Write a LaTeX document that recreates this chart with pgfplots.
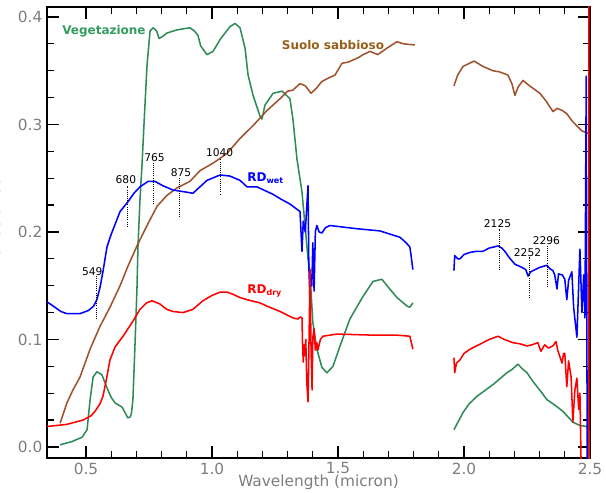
\documentclass[border=0pt]{standalone}
\usepackage{fontspec}
\setmainfont{DejaVu Sans}
\usepackage{pgfplots}
\pgfplotsset{compat=1.18}
\definecolor{veg}{RGB}{46,139,87}
\definecolor{vegtxt}{RGB}{50,155,95}
\definecolor{soil}{RGB}{160,82,45}
\definecolor{soiltxt}{RGB}{150,95,25}
\definecolor{ticktxt}{RGB}{125,125,125}
\begin{document}
\begin{tikzpicture}
\begin{axis}[
 scale only axis, width=407.25pt, height=338.25pt,
 xmin=0.345, xmax=2.5, ymin=-0.0103, ymax=0.4093,
 xtick={0.5,1.0,1.5,2.0,2.5}, minor x tick num=4,
 ytick={0,0.1,0.2,0.3,0.4}, minor y tick num=3,
 tick align=inside, major tick length=9pt, minor tick length=5pt,
 xticklabel style={/pgf/number format/.cd, fixed, fixed zerofill, precision=1},
 yticklabel style={/pgf/number format/.cd, fixed, fixed zerofill, precision=1},
 /pgf/number format/assume math mode=true,
 tick label style={font=\fontsize{11.5}{13}\selectfont, text=ticktxt},
 xlabel={Wavelength (micron)}, ylabel={Reflectance},
 label style={font=\fontsize{11.5}{13}\selectfont, text=ticktxt},
 xlabel style={at={(axis description cs:0.5,0)}, anchor=center, yshift=-18.5pt},
 ylabel style={at={(axis description cs:-0.0774,0.52)}, anchor=south},
 axis line style={line width=0.9pt},
 every tick/.style={black, line width=0.9pt},
 every axis plot/.append style={line width=1.15pt, line join=round},
]
\coordinate (SW) at (rel axis cs:0,0);
\coordinate (NE) at (rel axis cs:1,1);
% Vegetation
\addplot[veg] coordinates {(0.397,0.002) (0.444,0.005) (0.484,0.009) (0.504,0.016) (0.516,0.044) (0.528,0.065) (0.543,0.070) (0.563,0.067) (0.583,0.055) (0.60,0.046) (0.615,0.041) (0.643,0.037) (0.666,0.027) (0.675,0.028) (0.68,0.031) (0.686,0.044) (0.695,0.10) (0.702,0.147) (0.706,0.186) (0.714,0.23) (0.722,0.262) (0.732,0.31) (0.742,0.355) (0.754,0.387) (0.766,0.390) (0.78,0.387) (0.79,0.38) (0.805,0.382) (0.82,0.385) (0.861,0.388) (0.912,0.390) (0.93,0.387) (0.944,0.383) (0.955,0.373) (0.98,0.365) (1.004,0.368) (1.032,0.379) (1.071,0.391) (1.091,0.394) (1.111,0.39) (1.131,0.371) (1.143,0.346) (1.163,0.327) (1.19,0.308) (1.198,0.305) (1.21,0.318) (1.242,0.329) (1.278,0.331) (1.309,0.324) (1.321,0.305) (1.337,0.268) (1.357,0.237) (1.369,0.206) (1.381,0.175) (1.389,0.160) (1.40,0.116) (1.416,0.091) (1.436,0.074) (1.456,0.069) (1.48,0.075) (1.508,0.094) (1.547,0.119) (1.599,0.14) (1.639,0.154) (1.674,0.156) (1.698,0.149) (1.734,0.139) (1.774,0.131) (1.785,0.130) (1.797,0.134)};
\addplot[veg] coordinates {(1.96,0.016) (1.996,0.032) (2.02,0.040) (2.051,0.047) (2.08,0.052) (2.115,0.058) (2.14,0.063) (2.17,0.069) (2.19,0.072) (2.214,0.077) (2.23,0.073) (2.25,0.069) (2.27,0.062) (2.29,0.056) (2.31,0.05) (2.329,0.044) (2.36,0.039) (2.393,0.033) (2.432,0.023) (2.46,0.020) (2.488,0.019) (2.497,0.014) (2.5,-0.02)};
% Soil
\addplot[soil] coordinates {(0.397,0.022) (0.424,0.041) (0.448,0.053) (0.476,0.065) (0.516,0.091) (0.555,0.112) (0.595,0.13) (0.635,0.15) (0.666,0.168) (0.702,0.187) (0.742,0.206) (0.782,0.224) (0.821,0.234) (0.861,0.241) (0.912,0.247) (0.952,0.257) (1.004,0.264) (1.059,0.273) (1.111,0.287) (1.163,0.299) (1.218,0.313) (1.27,0.324) (1.30,0.331) (1.321,0.332) (1.349,0.338) (1.37,0.336) (1.393,0.329) (1.415,0.334) (1.436,0.34) (1.46,0.343) (1.488,0.346) (1.516,0.357) (1.54,0.358) (1.579,0.362) (1.60,0.365) (1.627,0.368) (1.658,0.365) (1.694,0.371) (1.734,0.377) (1.76,0.375) (1.805,0.374)};
\addplot[soil] coordinates {(1.96,0.336) (1.975,0.346) (1.996,0.354) (2.04,0.359) (2.075,0.354) (2.115,0.350) (2.14,0.349) (2.174,0.346) (2.19,0.338) (2.202,0.327) (2.215,0.335) (2.234,0.341) (2.26,0.336) (2.301,0.329) (2.325,0.322) (2.353,0.312) (2.37,0.315) (2.39,0.313) (2.408,0.31) (2.43,0.303) (2.468,0.294) (2.5,0.291)};
% RD wet
\addplot[blue] coordinates {(0.345,0.135) (0.37,0.131) (0.40,0.126) (0.424,0.124) (0.476,0.124) (0.51,0.127) (0.53,0.131) (0.543,0.137) (0.555,0.148) (0.567,0.163) (0.583,0.186) (0.60,0.198) (0.635,0.219) (0.666,0.228) (0.69,0.236) (0.714,0.242) (0.746,0.247) (0.774,0.247) (0.805,0.243) (0.845,0.239) (0.90,0.237) (0.924,0.236) (0.952,0.242) (0.98,0.248) (1.032,0.253) (1.071,0.252) (1.111,0.248) (1.139,0.242) (1.178,0.242) (1.242,0.235) (1.27,0.231) (1.309,0.226) (1.349,0.219) (1.353,0.2) (1.357,0.182) (1.362,0.21) (1.37,0.2) (1.375,0.22) (1.381,0.243) (1.384,0.17) (1.388,0.14) (1.392,0.16) (1.396,0.15) (1.40,0.19) (1.405,0.145) (1.41,0.2) (1.416,0.206) (1.425,0.2) (1.436,0.199) (1.45,0.204) (1.468,0.206) (1.575,0.203) (1.666,0.201) (1.746,0.195) (1.77,0.19) (1.785,0.186) (1.79,0.178) (1.797,0.165)};
\addplot[blue] coordinates {(1.96,0.164) (1.963,0.178) (1.975,0.175) (1.984,0.175) (2.0,0.179) (2.024,0.181) (2.05,0.182) (2.075,0.182) (2.10,0.185) (2.135,0.187) (2.15,0.185) (2.162,0.182) (2.18,0.176) (2.202,0.170) (2.23,0.167) (2.245,0.165) (2.254,0.159) (2.265,0.163) (2.282,0.165) (2.30,0.167) (2.329,0.169) (2.34,0.166) (2.353,0.164) (2.36,0.160) (2.369,0.147) (2.375,0.161) (2.39,0.160) (2.40,0.156) (2.408,0.137) (2.415,0.155) (2.428,0.163) (2.435,0.13) (2.448,0.102) (2.455,0.15) (2.46,0.184) (2.468,0.125) (2.475,0.16) (2.48,0.12) (2.485,0.345) (2.489,-0.02)};
% RD dry
\addplot[red] coordinates {(0.345,0.019) (0.424,0.021) (0.488,0.025) (0.52,0.029) (0.535,0.033) (0.555,0.040) (0.567,0.047) (0.58,0.062) (0.595,0.081) (0.615,0.093) (0.647,0.103) (0.686,0.117) (0.714,0.128) (0.74,0.134) (0.762,0.136) (0.793,0.133) (0.82,0.128) (0.845,0.126) (0.885,0.125) (0.924,0.128) (0.964,0.136) (1.0,0.141) (1.032,0.144) (1.06,0.144) (1.083,0.142) (1.111,0.139) (1.139,0.137) (1.19,0.134) (1.218,0.131) (1.27,0.126) (1.321,0.12) (1.341,0.119) (1.35,0.121) (1.357,0.120) (1.359,0.097) (1.362,0.079) (1.365,0.095) (1.368,0.085) (1.372,0.1) (1.376,0.06) (1.381,0.042) (1.385,0.1) (1.389,0.165) (1.393,0.09) (1.397,0.053) (1.40,0.102) (1.405,0.11) (1.41,0.09) (1.416,0.097) (1.42,0.09) (1.43,0.1) (1.44,0.103) (1.496,0.105) (1.639,0.104) (1.734,0.104) (1.785,0.103) (1.797,0.091)};
\addplot[red] coordinates {(1.96,0.083) (1.963,0.069) (1.97,0.078) (1.984,0.081) (2.0,0.087) (2.024,0.091) (2.05,0.094) (2.075,0.097) (2.10,0.100) (2.135,0.103) (2.16,0.100) (2.194,0.097) (2.22,0.096) (2.25,0.094) (2.27,0.095) (2.293,0.097) (2.305,0.089) (2.32,0.095) (2.335,0.092) (2.353,0.094) (2.365,0.098) (2.372,0.09) (2.389,0.078) (2.395,0.087) (2.40,0.087) (2.408,0.056) (2.415,0.08) (2.425,0.065) (2.432,0.023) (2.44,0.053) (2.448,0.064) (2.455,0.035) (2.46,0.050) (2.465,-0.02) (2.4955,-0.02) (2.4955,0.42)};
% annotations
\begin{scope}[densely dotted, line width=0.6pt]
\draw (axis cs:0.543,0.119) -- (axis cs:0.543,0.159);
\draw (axis cs:0.666,0.205) -- (axis cs:0.666,0.243);
\draw (axis cs:0.766,0.226) -- (axis cs:0.766,0.264);
\draw (axis cs:0.869,0.214) -- (axis cs:0.869,0.250);
\draw (axis cs:1.032,0.235) -- (axis cs:1.032,0.268);
\draw (axis cs:2.139,0.165) -- (axis cs:2.139,0.203);
\draw (axis cs:2.258,0.139) -- (axis cs:2.258,0.177);
\draw (axis cs:2.329,0.149) -- (axis cs:2.329,0.187);
\end{scope}
\begin{scope}[every node/.style={font=\fontsize{8}{9}\selectfont, inner sep=0pt}]
\node at (axis cs:0.525,0.163) {549};
\node at (axis cs:0.658,0.249) {680};
\node at (axis cs:0.772,0.269) {765};
\node at (axis cs:0.877,0.255) {875};
\node at (axis cs:1.030,0.274) {1040};
\node at (axis cs:2.133,0.208) {2125};
\node at (axis cs:2.252,0.181) {2252};
\node at (axis cs:2.327,0.192) {2296};
\end{scope}
\begin{scope}[every node/.style={font=\fontsize{9}{10}\selectfont\bfseries, inner sep=0pt}]
\node[text=vegtxt] at (axis cs:0.571,0.387) {Vegetazione};
\node[text=soiltxt] at (axis cs:1.480,0.374) {Suolo sabbioso};
\node[text=blue, anchor=west] at (axis cs:1.139,0.250) {RD\textsubscript{wet}};
\node[text=red, anchor=west] at (axis cs:1.139,0.145) {RD\textsubscript{dry}};
\end{scope}
\end{axis}
\pgfresetboundingbox
\path[use as bounding box] ([xshift=-35.25pt,yshift=-25.5pt]SW) rectangle ([xshift=12pt,yshift=5.25pt]NE);
\end{tikzpicture}
\end{document}
